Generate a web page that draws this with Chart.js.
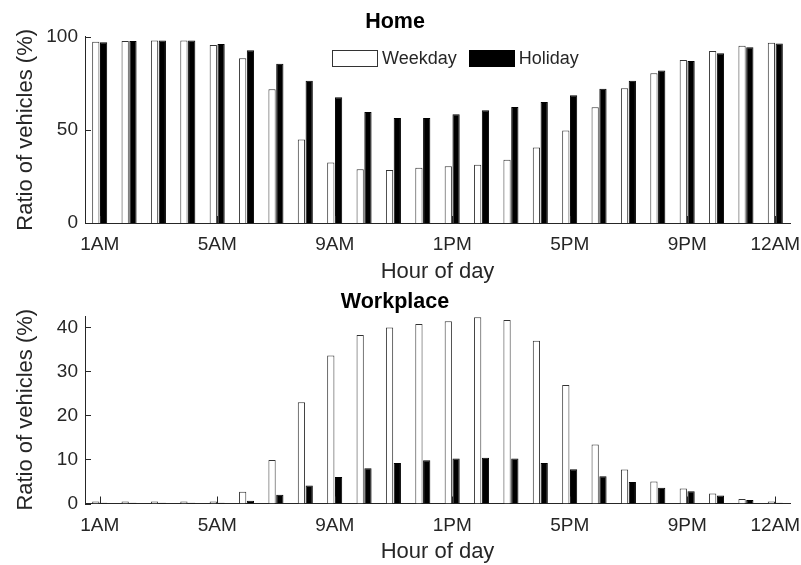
<!DOCTYPE html>
<html>
<head>
<meta charset="utf-8">
<script src="https://cdn.jsdelivr.net/npm/chart.js@4.4.0/dist/chart.umd.min.js"></script>
<style>
  html, body { margin:0; padding:0; background:#fff; width:801px; height:565px; overflow:hidden; }
  .wrap { position:absolute; left:0; width:801px; }
  #w1 { top:0; height:285px; }
  #w2 { top:285px; height:280px; }
  #legend { position:absolute; left:332px; top:50px; height:17px; display:flex; align-items:center;
            font-family:"Liberation Sans", Arial, sans-serif; font-size:18px; line-height:17px; color:#262626; }
  .box { display:inline-block; width:46px; height:17px; box-sizing:border-box; }
  .wk { background:#fff; border:1px solid #333; }
  .hd { background:#000; border:1px solid #000; }
  .lbl { margin-left:4px; }
</style>
</head>
<body>
<div class="wrap" id="w1"><canvas id="c1" width="801" height="285"></canvas></div>
<div class="wrap" id="w2"><canvas id="c2" width="801" height="280"></canvas></div>
<div id="legend">
  <span class="box wk"></span><span class="lbl">Weekday</span>
  <span class="box hd" style="margin-left:12px"></span><span class="lbl">Holiday</span>
</div>
<script>
// ---- data ----
const hours = ['1AM','2AM','3AM','4AM','5AM','6AM','7AM','8AM','9AM','10AM','11AM','12PM',
               '1PM','2PM','3PM','4PM','5PM','6PM','7PM','8PM','9PM','10PM','11PM','12AM'];
const shownTickIdx = [0, 4, 8, 12, 16, 20, 23];

const homeWeekday = [97.3, 97.7, 97.9, 98.0, 95.5, 88.4, 71.8, 44.8, 32.5, 28.9, 28.4, 29.6,
                     30.5, 31.3, 33.9, 40.5, 49.6, 62.1, 72.3, 80.4, 87.5, 92.3, 95.2, 96.8];
const homeHoliday = [97.0, 97.7, 98.0, 98.0, 96.1, 92.7, 85.5, 76.3, 67.5, 59.6, 56.4, 56.3,
                     58.4, 60.5, 62.3, 65.0, 68.6, 72.1, 76.3, 81.8, 87.0, 91.1, 94.3, 96.4];

const workWeekday = [0.45, 0.45, 0.45, 0.45, 0.45, 2.65, 9.9, 23.0, 33.6, 38.3, 40.0, 40.8,
                     41.4, 42.3, 41.7, 37.0, 26.9, 13.4, 7.7, 5.0, 3.4, 2.3, 1.0, 0.45];
const workHoliday = [0.15, 0.15, 0.15, 0.15, 0.15, 0.6, 2.0, 4.1, 6.0, 8.0, 9.2, 9.8,
                     10.2, 10.4, 10.2, 9.2, 7.8, 6.2, 4.9, 3.6, 2.8, 1.8, 0.8, 0.15];

const homeYMax = 100, homeYStep = 50;
const workYMax = 42.6, workYStep = 10;

// ---- styling ----
const FONT = '"Liberation Sans", Arial, sans-serif';
const AX = '#262626';
Chart.defaults.font.family = FONT;
Chart.defaults.color = AX;

const insideTicks = {
  id: 'insideTicks',
  afterDatasetsDraw(chart) {
    const {ctx, chartArea, scales} = chart;
    const x = scales.x, y = scales.y;
    ctx.save();
    ctx.strokeStyle = AX;
    ctx.lineWidth = 1;
    ctx.beginPath();
    shownTickIdx.forEach(i => {
      const px = Math.round(x.getPixelForTick(i)) + 0.5;
      ctx.moveTo(px, chartArea.bottom);
      ctx.lineTo(px, chartArea.bottom - 7);
    });
    y.ticks.forEach((t, i) => {
      const py = Math.round(y.getPixelForTick(i)) + 0.5;
      ctx.moveTo(chartArea.left, py);
      ctx.lineTo(chartArea.left + 6, py);
    });
    ctx.stroke();
    ctx.restore();
  }
};

function makeChart(id, title, wk, hol, ymax, step, titlePad, xHeight) {
  return new Chart(document.getElementById(id), {
    type: 'bar',
    data: {
      labels: hours,
      datasets: [
        { label: 'Weekday', data: wk, backgroundColor: '#ffffff', borderColor: '#333333', borderWidth: 1,
          categoryPercentage: 0.53, barPercentage: 0.93 },
        { label: 'Holiday', data: hol, backgroundColor: '#000000', borderColor: '#000000', borderWidth: 1,
          categoryPercentage: 0.53, barPercentage: 0.93 }
      ]
    },
    options: {
      responsive: false,
      animation: false,
      layout: { padding: { left: 0, right: 11, top: 0, bottom: 0 } },
      plugins: {
        legend: { display: false },
        tooltip: { enabled: false },
        title: { display: true, text: title, color: '#000', font: { size: 21.5, weight: 'bold' },
                 padding: titlePad }
      },
      scales: {
        x: {
          grid: { display: false, drawTicks: false, tickLength: 0 },
          border: { display: true, color: AX, width: 1 },
          ticks: {
            autoSkip: false, maxRotation: 0, minRotation: 0, padding: 10.6, color: AX,
            font: { size: 19 },
            callback: (v, i) => shownTickIdx.includes(i) ? hours[i] : ''
          },
          title: { display: true, text: 'Hour of day', color: AX, font: { size: 22 },
                   padding: { top: 0, bottom: 0 } },
          afterFit: s => { s.height = xHeight; s.paddingLeft = 0; s.paddingRight = 0; }
        },
        y: {
          min: 0, max: ymax,
          grid: { display: false, drawTicks: false, tickLength: 0 },
          border: { display: true, color: AX, width: 1 },
          ticks: { stepSize: step, includeBounds: false, padding: 7, color: AX, font: { size: 19 } },
          title: { display: true, text: 'Ratio of vehicles (%)', color: AX, font: { size: 22 },
                   padding: { top: 12.8, bottom: 0 } },
          afterFit: s => { s.width = 85; }
        }
      }
    },
    plugins: [insideTicks]
  });
}

makeChart('c1', 'Home', homeWeekday, homeHoliday, homeYMax, homeYStep, { top: 9.1, bottom: 1.8 }, 62);
makeChart('c2', 'Workplace', workWeekday, workHoliday, workYMax, workYStep, { top: 4.1, bottom: 1.1 }, 61.5);
</script>
</body>
</html>
